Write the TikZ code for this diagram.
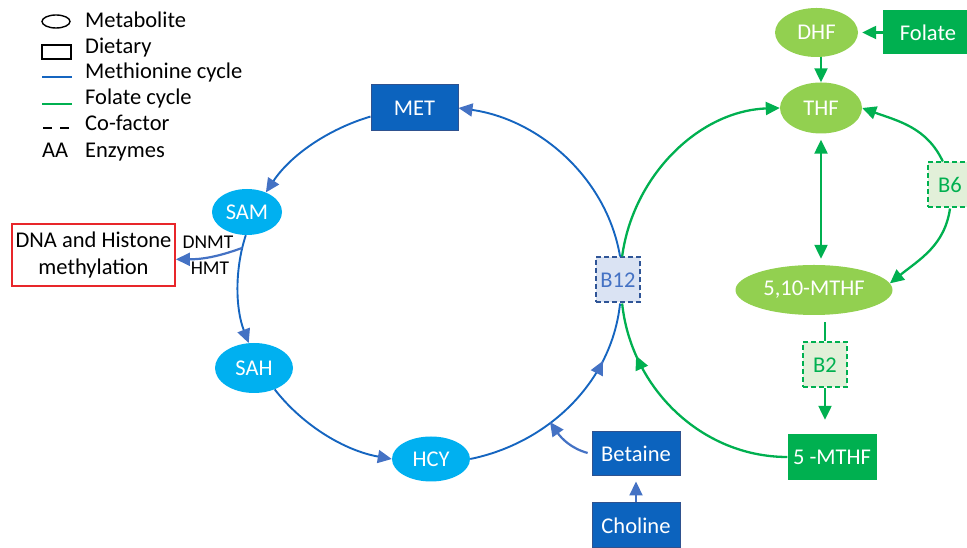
\documentclass[tikz,border=0pt]{standalone}
\usepackage{fontspec}
\setmainfont{Carlito}
\usetikzlibrary{shapes.geometric,arrows.meta,decorations.markings}

\definecolor{metcyan}{HTML}{00B0F0}
\definecolor{dietblue}{HTML}{0C63BE}
\definecolor{dietedge}{HTML}{2F528F}
\definecolor{mline}{HTML}{1565C0}
\definecolor{mtip}{HTML}{4472C4}
\definecolor{fgreen}{HTML}{00B050}
\definecolor{lgreen}{HTML}{92D050}
\definecolor{cofgreen}{HTML}{E2F0D9}
\definecolor{cofblue}{HTML}{DAE3F3}
\definecolor{cofedge}{HTML}{2F5597}
\definecolor{dnared}{HTML}{E8262A}

\begin{document}
\begin{tikzpicture}[x=1pt,y=1pt,
  txt/.style={font=\fontsize{22.5}{27}\selectfont},
  enz/.style={font=\fontsize{19.5}{22}\selectfont, inner sep=0pt},
  metab/.style={ellipse, fill=metcyan, text=white, inner sep=0pt, txt},
  fmetab/.style={ellipse, fill=lgreen, text=white, inner sep=0pt, txt},
  diet/.style={rectangle, fill=dietblue, draw=dietedge, line width=1pt, text=white, inner sep=0pt, txt},
  fdiet/.style={rectangle, fill=fgreen, text=white, inner sep=0pt, txt},
  cofg/.style={rectangle, fill=cofgreen, draw=fgreen, line width=2pt, dash pattern=on 5pt off 3pt,
    text=fgreen, inner sep=0pt, minimum width=44pt, minimum height=45pt, txt},
  cofb/.style={rectangle, fill=cofblue, draw=cofedge, line width=2pt, dash pattern=on 5pt off 3pt,
    text=mtip, inner sep=0pt, minimum width=44pt, minimum height=45pt, txt},
  bline/.style={draw=mline, line width=1.9pt},
  pline/.style={draw=mtip, line width=2.2pt},
  btip/.style={-{Triangle[length=14pt,width=13pt,color=mtip]}},
  gline/.style={draw=fgreen, line width=2.3pt},
  gtip/.style={-{Triangle[length=14pt,width=13pt]}},
  gboth/.style={{Triangle[length=14pt,width=13pt]}-{Triangle[length=14pt,width=13pt]}},
  bmid/.style={postaction={decorate}, decoration={markings,
    mark=at position #1 with {\arrow{Triangle[length=14pt,width=13pt,color=mtip]}}}},
  gmid/.style={postaction={decorate}, decoration={markings,
    mark=at position #1 with {\arrow{Triangle[length=14pt,width=13pt,color=fgreen]}}}},
  legtxt/.style={txt, inner sep=0pt, anchor=base west}
]
\useasboundingbox (0,0) rectangle (967,548);
\clip (0,0) rectangle (967,548);

% ---- legend ----
\node[draw, ellipse, line width=1.4pt, minimum width=28pt, minimum height=13pt, inner sep=0pt] (lgmet) at (56,526.5) {};
\node[draw, line width=2pt, minimum width=29pt, minimum height=14pt, inner sep=0pt] (lgdiet) at (56.5,496) {};
\draw[bline] (42,471) -- (72,471);
\draw[gline] (42,444) -- (72,444);
\draw[line width=2.5pt, dash pattern=on 9pt off 8pt] (43,420) -- (69,420);
\node[legtxt] (lgaa) at (42,390) {AA};
\node[legtxt] (lt1) at (85,520) {Metabolite};
\node[legtxt] (lt2) at (85,494.5) {Dietary};
\node[legtxt] (lt3) at (85,469) {Methionine cycle};
\node[legtxt] (lt4) at (85,443.5) {Folate cycle};
\node[legtxt] (lt5) at (85,417) {Co-factor};
\node[legtxt] (lt6) at (85,390.5) {Enzymes};

% ---- methionine cycle nodes ----
\node[diet, minimum width=87pt, minimum height=46pt] (met) at (414.5,440) {MET};
\node[metab, minimum width=70pt, minimum height=46pt] (sam) at (247,336) {SAM};
\node[metab, minimum width=78pt, minimum height=50pt] (sah) at (254,180) {SAH};
\node[metab, minimum width=78pt, minimum height=45pt] (hcy) at (431,89) {HCY};
\node[cofb] (b12) at (618,268) {B12};
\node[diet, minimum width=88pt, minimum height=44pt] (betaine) at (636,94) {Betaine};
\node[diet, minimum width=88pt, minimum height=45pt] (choline) at (636,22.5) {Choline};
\node[draw=dnared, line width=1.8pt, minimum width=163pt, minimum height=62pt, align=center,
  inner sep=0pt, txt] (dna) at (93.5,293) {DNA and Histone\\methylation};
\node[enz] (dnmt) at (208,306) {DNMT};
\node[enz] (hmt) at (210,280) {HMT};

% ---- folate cycle nodes ----
\node[fmetab, minimum width=83pt, minimum height=49pt] (dhf) at (816.5,515.5) {DHF};
\node[fdiet, minimum width=90pt, minimum height=44pt] (folate) at (928,515.5) {Folate};
\node[fmetab, minimum width=82pt, minimum height=51pt] (thf) at (821,440) {THF};
\node[fmetab, minimum width=157pt, minimum height=50pt] (mthf) at (814,258) {5,10-MTHF};
\node[cofg] (b2) at (825,183) {B2};
\node[fdiet, minimum width=89pt, minimum height=46pt] (m5) at (832,91) {5 -MTHF};
\node[cofg] (b6) at (950,363) {B6};
\coordinate (bj) at (550,126);

% ---- methionine cycle arcs ----
\draw[bline, btip] (met.191) to[out=196.5, in=56.5, looseness=0.88] (sam.46);
\draw[bline, btip] (sam.267) to[out=252, in=111, looseness=0.87] coordinate[pos=0.12] (br) (sah.102);
\draw[bline, btip] (sah.-46) to[out=308, in=170, looseness=0.88] (hcy.west);
\draw[bline, bmid=0.74] (hcy.east) to[out=11.5, in=264, looseness=0.94] (b12.275);
\draw[bline, btip] (b12.85) to[out=99.6, in=-8, looseness=0.94] (met.east);

\draw[pline, btip, shorten <=4pt] (betaine.west) to[out=165, in=-55] (bj);
\draw[pline, btip, shorten >=5pt] (choline.north) -- (betaine.south);
\draw[pline, btip] (br) to[out=200, in=0] (dna.-3);

% ---- folate cycle arcs ----
\draw[gline, gtip] (b12.80) to[out=82.4, in=182, looseness=0.96] (thf.west);
\draw[gline, gmid=0.78] (m5.west) to[out=180, in=276, looseness=0.97] (b12.280);
\draw[gline, gtip] (b6.107) to[out=115, in=-20] (thf.east);
\draw[gline, gtip] (b6.south) to[out=262, in=39] (mthf.5);
\draw[gline, gboth, shorten <=6pt, shorten >=6pt] (thf.south) -- (thf.south |- mthf.north);
\draw[gline, gtip] (thf.north |- dhf.south) -- (thf.north);
\draw[gline, gtip, shorten >=4pt] (folate.west) -- (dhf.east);
\draw[gline, shorten <=7pt] (b2.north |- mthf.south) -- (b2.north);
\draw[gline, gtip, shorten >=14pt] (b2.south) -- (b2.south |- m5.north);
\end{tikzpicture}
\end{document}
